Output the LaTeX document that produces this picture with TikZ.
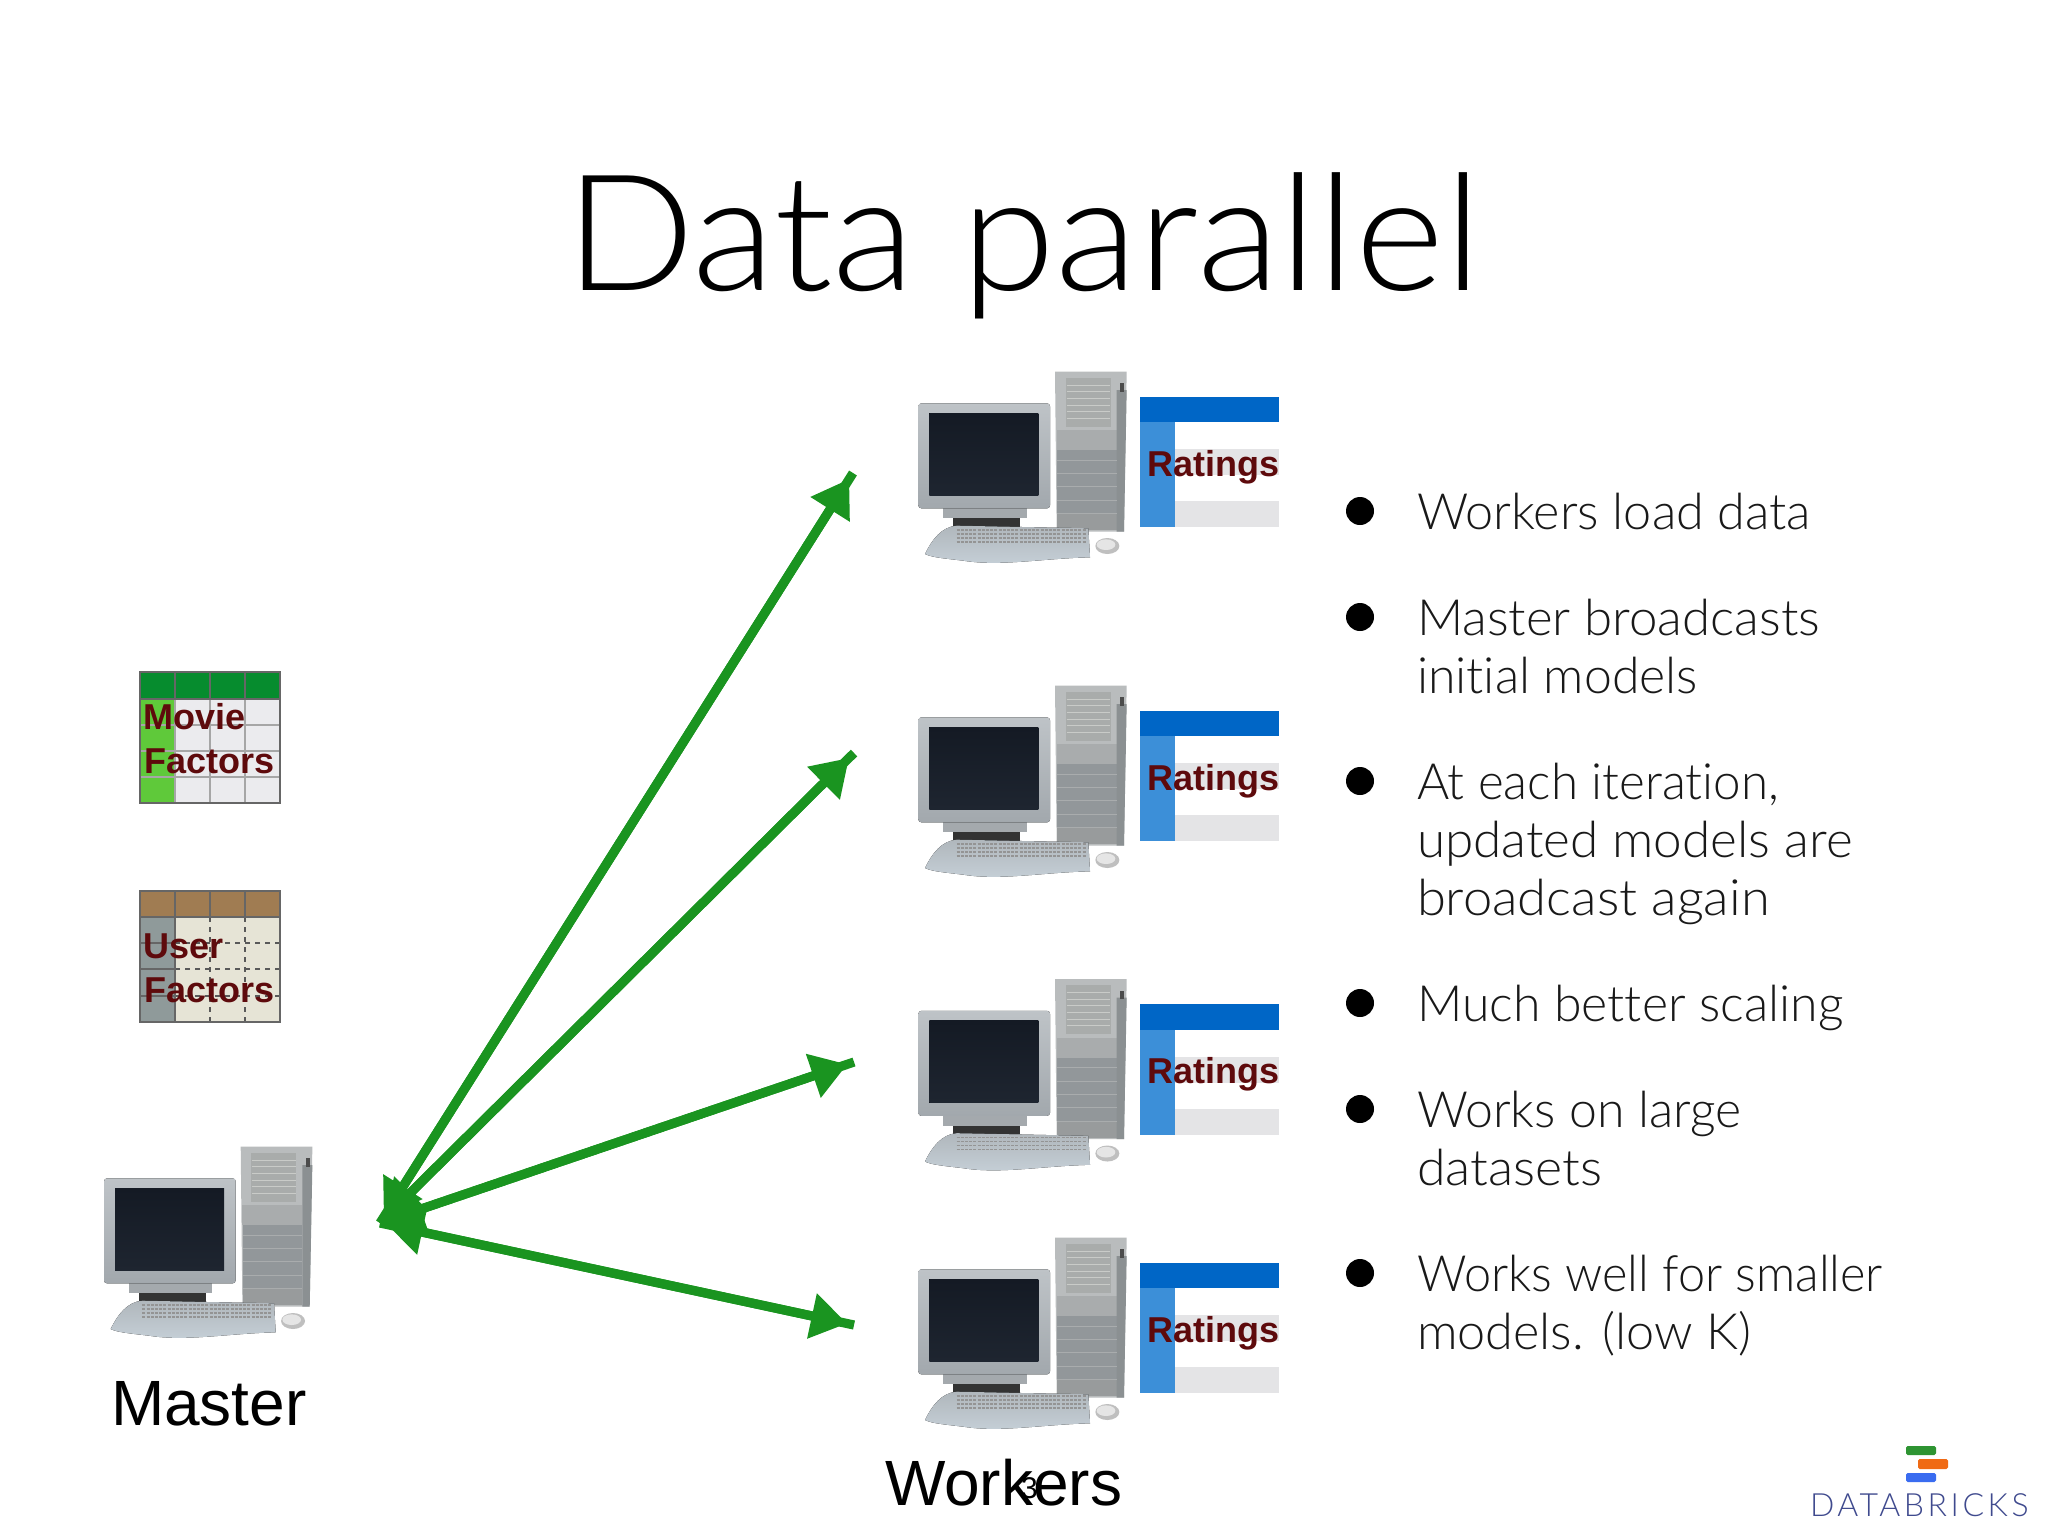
\documentclass[tikz,border=0pt]{standalone}
\usepackage{fontspec}
\usetikzlibrary{arrows.meta}
\setmainfont{Liberation Sans}
\newfontfamily\lightfont[Ligatures={NoCommon,NoRare,NoContextual},Contextuals=NoAlternate]{Lato Light}
\newfontfamily\logofont[LetterSpace=11]{Lato Light}
\definecolor{arrowgreen}{HTML}{1A9420}
\definecolor{tabletext}{HTML}{5E0A0C}
\definecolor{headblue}{HTML}{0066C6}
\definecolor{sideblue}{HTML}{3C8FD8}
\definecolor{rowgrey}{HTML}{E4E4E6}
\definecolor{logoblue}{HTML}{3F4A8E}
\definecolor{mgreenhead}{HTML}{068C2E}
\definecolor{mgreenside}{HTML}{5FC93A}
\definecolor{mbody}{HTML}{EBEBEE}
\definecolor{ubrown}{HTML}{A07C52}
\definecolor{uside}{HTML}{8F9A9A}
\definecolor{ubody}{HTML}{E6E4D6}
\definecolor{logogreen}{HTML}{2E9432}
\definecolor{logoorange}{HTML}{F06A14}
\definecolor{logosky}{HTML}{3A6CF0}
\definecolor{keylight}{HTML}{C6D0D8}
\definecolor{keytop}{HTML}{B0B7BC}
\definecolor{bezeltop}{HTML}{BEC3C7}
\definecolor{bezelbot}{HTML}{A2A8AD}
\definecolor{screendark}{HTML}{141A24}
\definecolor{screenlow}{HTML}{1E2530}
\definecolor{towertop}{HTML}{B9BCBD}
\definecolor{towermid}{HTML}{A9ACAD}
\definecolor{towerlow}{HTML}{92979A}
\definecolor{towerside}{HTML}{8B9092}
\definecolor{ventgrey}{HTML}{A9ACAB}
\definecolor{ventline}{HTML}{C9CBC8}
\definecolor{standgrey}{HTML}{A4A9AD}
\tikzset{
  txt/.style={inner sep=0pt,outer sep=0pt,anchor=base west},
  titletxt/.style={txt,font=\lightfont\fontsize{81}{90}\selectfont,text=black},
  bodytxt/.style={txt,font=\lightfont\fontsize{25}{29}\selectfont,text=black!90},
  labeltxt/.style={txt,font=\fontsize{32}{36}\selectfont,text=black},
  tabletxt/.style={txt,font=\bfseries\fontsize{18}{20}\selectfont,text=tabletext},
  bulletdot/.style={circle,fill=black,inner sep=0pt,minimum size=14pt},
  link/.style={draw=arrowgreen,line width=4.6pt},
  linkhead/.style={draw=arrowgreen,fill=arrowgreen,line width=4.6pt,shorten >=3.5pt,shorten <=3.5pt,
    {Triangle[length=18pt,width=22pt,fill=arrowgreen]}-{Triangle[length=18pt,width=22pt,fill=arrowgreen]}},
}
\newcommand{\computer}[2]{%
  \begin{scope}[shift={(#1,#2)},x=0.16667pt,y=-0.16667pt]
    % tower
    \fill[towertop] (465,65) -- (680,65) -- (672,545) -- (470,545) -- cycle;
    \fill[towermid] (470,240) rectangle (650,300);
    \fill[towerlow] (472,300) rectangle (650,490);
    \fill[towermid!90!black] (472,490) rectangle (650,540);
    \fill[towerside] (650,120) -- (680,120) -- (672,545) -- (650,545) -- cycle;
    \foreach \yy in {330,370,410,450,490}{\draw[towermid,line width=0.35pt] (472,\yy) -- (650,\yy);}
    \fill[ventgrey] (497,83) rectangle (632,230);
    \foreach \yy in {105,125,145,165,185,205}{\draw[ventline,line width=0.4pt] (500,\yy) -- (630,\yy);}
    \fill[black!70] (660,100) rectangle (672,125);
    % monitor
    \fill[black!80] (160,505) rectangle (360,530);
    \fill[standgrey] (130,475) rectangle (380,505);
    \fill[rounded corners=1.5pt,top color=bezeltop,bottom color=bezelbot] (55,160) rectangle (450,475);
    \fill[top color=screendark,bottom color=screenlow] (88,190) rectangle (415,435);
    % keyboard
    \fill[top color=keytop,bottom color=keylight] (75,612) .. controls (95,570) and (125,530) .. (170,527) -- (565,535) -- (570,622) .. controls (430,625) and (300,650) .. (190,632) .. controls (130,625) and (95,622) .. (75,612) -- cycle;
    \foreach \yy in {540,552,564,576}{\draw[black!42,line width=0.6pt,dash pattern=on 1.5pt off 0.6pt] (170,\yy) -- (560,\yy);}
    % mouse
    \fill[black!25] (622,588) ellipse [x radius=36,y radius=24];
    \fill[black!10] (618,584) ellipse [x radius=28,y radius=16];
  \end{scope}}
\newcommand{\ratingtable}[3]{%
  \begin{scope}[shift={(#2,#3)},x=0.16667pt,y=-0.16667pt]
    \fill[rowgrey] (825,297) rectangle (1138,375);
    \fill[rowgrey] (825,453) rectangle (1138,532);
    \fill[sideblue] (720,217) rectangle (825,532);
    \fill[headblue] (720,140) rectangle (1138,217);
    \node[tabletxt] (#1) at (743,378) {Ratings};
  \end{scope}}
\newcommand{\fitline}[2]{\scalebox{#1}[1]{#2}}
\begin{document}
\begin{tikzpicture}[x=0.5pt,y=-0.5pt]
\path[use as bounding box,fill=white] (0,0) rectangle (2048,1536);

\node[titletxt] (title) at (565,290) {\fitline{1.054}{Data parallel}};

% workers
\computer{900}{350}
\computer{900}{664}
\computer{900}{957.5}
\computer{900}{1216}
\ratingtable{r1}{900}{350}
\ratingtable{r2}{900}{664}
\ratingtable{r3}{900}{957.5}
\ratingtable{r4}{900}{1216}
% master
\computer{85.7}{1125}

% movie factors table
\fill[mbody] (140,672) rectangle (280,803);
\fill[mgreenside] (140,699) rectangle (175,803);
\fill[mgreenhead] (140,672) rectangle (280,699);
\foreach \xx in {175,210,245}{\draw[black!35,line width=1pt] (\xx,699) -- (\xx,803);}
\foreach \yy in {725,751,777}{\draw[black!35,line width=1pt] (140,\yy) -- (280,\yy);}
\draw[black!60,line width=1pt] (140,699) -- (280,699);
\foreach \xx in {175,210,245}{\draw[black!60,line width=1pt] (\xx,672) -- (\xx,699);}
\draw[black!60,line width=1pt] (140,672) rectangle (280,803);
\node[tabletxt] (movie) at (143.5,729) {Movie};
\node[tabletxt] (mfactors) at (144.5,773) {Factors};

% user factors table
\fill[ubody] (140,891) rectangle (280,1022);
\fill[uside] (140,917) rectangle (175,1022);
\fill[ubrown] (140,891) rectangle (280,917);
\foreach \xx in {210,245}{\draw[black!65,line width=1pt,dash pattern=on 2.5pt off 2.5pt] (\xx,917) -- (\xx,1022);}
\foreach \yy in {943,969,996}{\draw[black!65,line width=1pt,dash pattern=on 2.5pt off 2.5pt] (175,\yy) -- (280,\yy);\draw[black!60,line width=1pt] (140,\yy) -- (175,\yy);}
\draw[black!60,line width=1pt] (175,891) -- (175,1022);
\draw[black!60,line width=1pt] (140,917) -- (280,917);
\foreach \xx in {210,245}{\draw[black!60,line width=1pt] (\xx,891) -- (\xx,917);}
\draw[black!60,line width=1pt] (140,891) rectangle (280,1022);
\node[tabletxt] (user) at (143.5,958) {User};
\node[tabletxt] (ufactors) at (144.5,1002) {Factors};

% connectors
\coordinate (hub) at (380,1223);
\coordinate (w1) at (853,473);
\coordinate (w2) at (854,753);
\coordinate (w3) at (854,1062);
\coordinate (w4) at (854,1325);
\foreach \ww in {w1,w2,w3,w4}{
  \draw[link] (hub) -- (\ww);
  \draw[linkhead] (hub) -- (\ww);
}

% labels
\node[labeltxt] (master) at (111,1425.5) {Master};
\node[labeltxt] (workers) at (885,1505) {Workers};
\node[txt,font=\fontsize{15}{17}\selectfont] (pagenum) at (1021,1498) {3};

% bullets
\node[bulletdot] (b1) at (1360,511) {};
\node[bulletdot] (b2) at (1360,617) {};
\node[bulletdot] (b3) at (1360,781) {};
\node[bulletdot] (b4) at (1360,1003) {};
\node[bulletdot] (b5) at (1360,1109) {};
\node[bulletdot] (b6) at (1360,1273) {};
\node[bodytxt] (l1) at (1417,529) {\fitline{1.007}{Workers load data}};
\node[bodytxt] (l2) at (1417,635) {\fitline{1.02}{Master broadcasts}};
\node[bodytxt] (l3) at (1417,693) {initial models};
\node[bodytxt] (l4) at (1417,799) {\fitline{0.986}{At each iteration,}};
\node[bodytxt] (l5) at (1417,857) {\fitline{1.025}{updated models are}};
\node[bodytxt] (l6) at (1417,915) {\fitline{1.051}{broadcast again}};
\node[bodytxt] (l7) at (1417,1021) {Much better scaling};
\node[bodytxt] (l8) at (1417,1127) {Works on large};
\node[bodytxt] (l9) at (1417,1185) {\fitline{1.037}{datasets}};
\node[bodytxt] (l10) at (1417,1291) {\fitline{0.973}{Works well for smaller}};
\node[bodytxt] (l11) at (1417,1349) {\fitline{1.008}{models. (low K)}};

% logo
\fill[logogreen,rounded corners=0.8pt] (1906,1446) rectangle (1936,1455);
\fill[logoorange,rounded corners=0.8pt] (1918,1459) rectangle (1948,1469);
\fill[logosky,rounded corners=0.8pt] (1906,1473) rectangle (1936,1482);
\node[txt,font=\logofont\fontsize{16}{18}\selectfont,text=logoblue] (logo) at (1810,1516) {DATABRICKS};
\end{tikzpicture}
\end{document}
